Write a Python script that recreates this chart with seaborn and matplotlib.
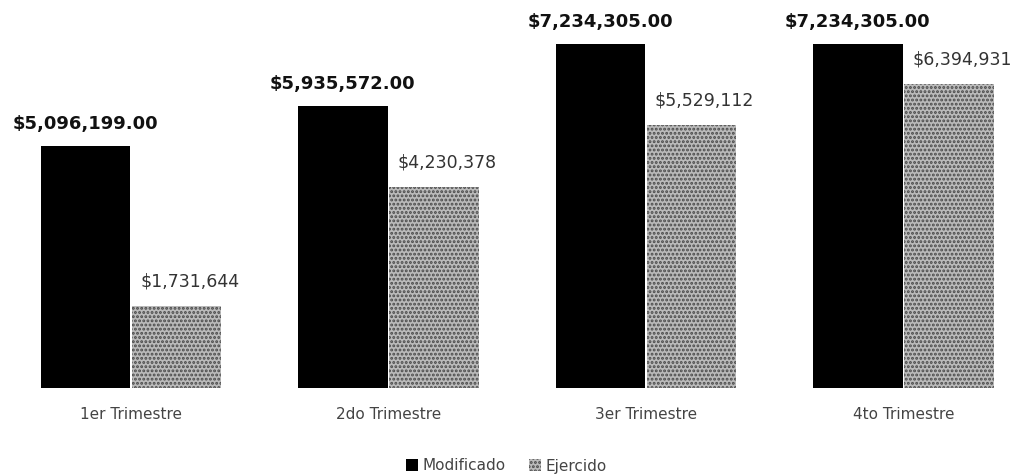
import matplotlib
matplotlib.use("Agg")
import matplotlib.pyplot as plt
import seaborn as sns
import pandas as pd

trimestres = ["1er Trimestre", "2do Trimestre", "3er Trimestre", "4to Trimestre"]
modificado = [5096199.00, 5935572.00, 7234305.00, 7234305.00]
ejercido = [1731644, 4230378, 5529112, 6394931]
series = ["Modificado", "Ejercido"]

df = pd.DataFrame({
    "trimestre": trimestres * 2,
    "valor": modificado + ejercido,
    "serie": [series[0]] * 4 + [series[1]] * 4,
})

sns.set_theme(style="white")
plt.rcParams["font.family"] = ["DejaVu Sans"]
plt.rcParams["hatch.linewidth"] = 1.4

W, H = 1013, 476
fig = plt.figure(figsize=(W / 100, H / 100), dpi=100)
base = 388
ax = fig.add_axes([0, (H - base) / H, 1, base / H])

sns.barplot(data=df, x="trimestre", y="valor", hue="serie",
            palette=["#000000", "#bababa"], width=0.71, gap=0.02,
            ax=ax, legend=False, saturation=1)

n = len(trimestres)
patches = ax.patches
for i, p in enumerate(patches):
    if i >= n:
        p.set_hatch("....")
        p.set_edgecolor("#4a4a4a")
        p.set_linewidth(0)
    else:
        p.set_linewidth(0)

ax.set_xlim(-131 / 257.5, (W - 131) / 257.5)
ax.set_ylim(0, base / 47.5 * 1e6)

for i, p in enumerate(patches[:n]):
    x = p.get_x() + p.get_width() / 2
    ax.text(x, p.get_height() + 280000, f"${modificado[i]:,.2f}",
            ha="center", va="bottom", fontsize=13, fontweight="bold",
            color="#111111")
for i, p in enumerate(patches[n:2 * n]):
    x = p.get_x() + p.get_width() / 2 + 0.05
    ax.text(x, p.get_height() + 330000, f"${ejercido[i]:,.0f}",
            ha="center", va="bottom", fontsize=12.5, color="#333333")

ax.set_xlabel("")
ax.set_ylabel("")
ax.set_yticks([])
ax.tick_params(axis="x", length=0, pad=14, labelsize=11, labelcolor="#444444")
for s in ax.spines.values():
    s.set_visible(False)

from matplotlib.patches import Patch
handles = [Patch(facecolor="#000000", linewidth=0),
           Patch(facecolor="#bababa", hatch="....", edgecolor="#4a4a4a", linewidth=0)]
fig.legend(handles, series, loc="center", bbox_to_anchor=(0.5, 1 - 466 / H),
           ncol=2, frameon=False, handlelength=0.8, handleheight=0.8,
           handletextpad=0.3, columnspacing=1.5, fontsize=11,
           labelcolor="#444444")

fig.savefig("out.png", dpi=100)
